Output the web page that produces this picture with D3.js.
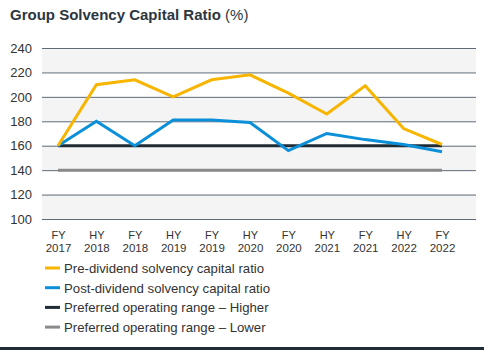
<!DOCTYPE html>
<html>
<head>
<meta charset="utf-8">
<script src="https://cdn.jsdelivr.net/npm/d3@7"></script>
<style>
  body { margin: 0; background: #fff; font-family: "Liberation Sans", Arial, sans-serif; }
  #chart svg { display: block; }
</style>
</head>
<body>
<div id="chart"></div>
<script>
// periods on the x axis (two-line labels)
const periods = ["FY 2017", "HY 2018", "FY 2018", "HY 2019", "FY 2019", "HY 2020",
                 "FY 2020", "HY 2021", "FY 2021", "HY 2022", "FY 2022"];
const preDividend  = [160, 210, 214, 200, 214, 218, 203, 186, 209, 174, 161];
const postDividend = [160, 180, 160, 181, 181, 179, 156, 170, 165, 161, 155];
const rangeHigher  = [160, 160, 160, 160, 160, 160, 160, 160, 160, 160, 160];
const rangeLower   = [140, 140, 140, 140, 140, 140, 140, 140, 140, 140, 140];
const yTicks = [100, 120, 140, 160, 180, 200, 220, 240];

const seriesNames = ["Pre-dividend solvency capital ratio", "Post-dividend solvency capital ratio",
                     "Preferred operating range \u2013 Higher", "Preferred operating range \u2013 Lower"];
const seriesColors = ["#f7b500", "#0a8fd8", "#1f2b35", "#8a8a8a"];

const width = 484, height = 350;
const plot = {left: 42, right: 476, top: 48, bottom: 219};

const svg = d3.select("#chart").append("svg").attr("width", width).attr("height", height);

// title
const title = svg.append("text").attr("x", 10).attr("y", 20)
	.attr("font-size", 15).attr("fill", "#2b3640");
title.append("tspan").attr("font-weight", "bold").text("Group Solvency Capital Ratio");
title.append("tspan").attr("font-weight", "normal").text(" (%)");

const x = d3.scalePoint().domain(periods).range([58, 442]);
const y = d3.scaleLinear().domain([100, 240]).range([plot.bottom, plot.top]);

// alternating bands
const bands = d3.pairs(yTicks).filter((d, i) => i % 2 === 0);
svg.selectAll("rect.band").data(bands).join("rect")
	.attr("class", "band")
	.attr("x", plot.left).attr("width", plot.right - plot.left)
	.attr("y", d => y(d[1])).attr("height", d => y(d[0]) - y(d[1]))
	.attr("fill", "#f4f4f4");

// y axis with gridlines
const yAxis = svg.append("g").attr("transform", `translate(${plot.left},0)`)
	.call(d3.axisLeft(y).tickValues(yTicks).tickSize(-(plot.right - plot.left)).tickPadding(10));
yAxis.select(".domain").remove();
yAxis.selectAll(".tick line").attr("stroke", "#5d6b78").attr("stroke-width", 1);
yAxis.selectAll(".tick text").attr("font-size", 13).attr("fill", "#333")
	.attr("font-family", "Liberation Sans, Arial, sans-serif");

// x axis labels: period type and year as two separate lines
const xAxis = svg.append("g").attr("transform", `translate(0,${plot.bottom})`)
	.call(d3.axisBottom(x).tickSize(0).tickPadding(0).tickFormat(d => d.split(" ")[0]));
xAxis.select(".domain").remove();
xAxis.selectAll(".tick text").attr("dy", null).attr("y", 20)
	.attr("font-size", 11).attr("fill", "#333")
	.attr("font-family", "Liberation Sans, Arial, sans-serif");
xAxis.selectAll(".tick").append("text")
	.attr("y", 32.5).attr("fill", "#333").attr("font-size", 11.5)
	.attr("font-family", "Liberation Sans, Arial, sans-serif")
	.attr("text-anchor", "middle")
	.text(d => d.split(" ")[1]);

// lines
const line = d3.line().x((d, i) => x(periods[i])).y(d => y(d));
const allSeries = [rangeLower, rangeHigher, postDividend, preDividend];
const colorOrder = [seriesColors[3], seriesColors[2], seriesColors[1], seriesColors[0]];
svg.selectAll("path.series").data(allSeries).join("path")
	.attr("class", "series")
	.attr("d", line)
	.attr("fill", "none")
	.attr("stroke", (d, i) => colorOrder[i])
	.attr("stroke-width", 3)
	.attr("stroke-linejoin", "miter");

// legend
const legend = svg.append("g");
const item = legend.selectAll("g").data(seriesNames).join("g")
	.attr("transform", (d, i) => `translate(45,${268 + i * 19.7})`);
item.append("line").attr("x1", 0).attr("x2", 15)
	.attr("stroke", (d, i) => seriesColors[i]).attr("stroke-width", 3);
item.append("text").attr("x", 19).attr("y", 5).attr("font-size", 13.2).attr("fill", "#333").text(d => d);

// bottom rule
svg.append("line").attr("x1", 0).attr("x2", width).attr("y1", 348.5).attr("y2", 348.5)
	.attr("stroke", "#1f2b35").attr("stroke-width", 3);
</script>
</body>
</html>
